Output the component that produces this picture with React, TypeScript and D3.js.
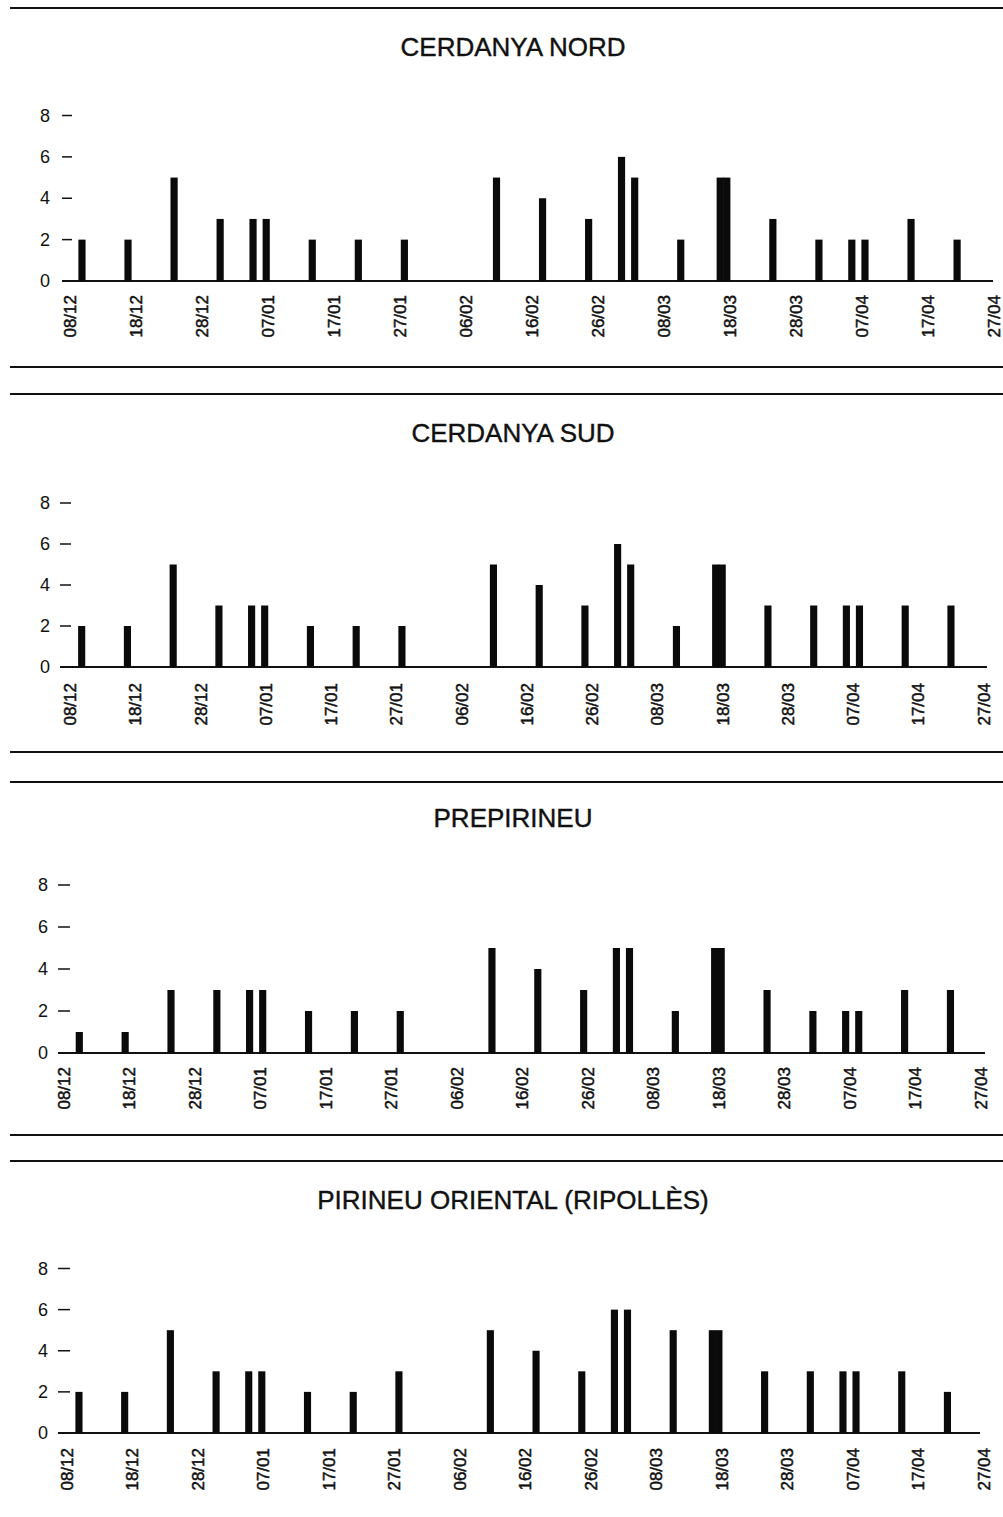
import React from "react";
import * as d3 from "d3";

// ---- data ----
const tickDates = [
  "1994-12-08", "1994-12-18", "1994-12-28", "1995-01-07", "1995-01-17",
  "1995-01-27", "1995-02-06", "1995-02-16", "1995-02-26", "1995-03-08",
  "1995-03-18", "1995-03-28", "1995-04-07", "1995-04-17", "1995-04-27",
];

const barDates = [
  "1994-12-10", "1994-12-17", "1994-12-24", "1994-12-31", "1995-01-05",
  "1995-01-07", "1995-01-14", "1995-01-21", "1995-01-28", "1995-02-11",
  "1995-02-18", "1995-02-25", "1995-03-02", "1995-03-04", "1995-03-11",
  "1995-03-17", "1995-03-18", "1995-03-25", "1995-04-01", "1995-04-06",
  "1995-04-08", "1995-04-15", "1995-04-22",
];

const titles = [
  "CERDANYA NORD",
  "CERDANYA SUD",
  "PREPIRINEU",
  "PIRINEU ORIENTAL (RIPOLLÈS)",
];

const cerdanyaNord = [2, 2, 5, 3, 3, 3, 2, 2, 2, 5, 4, 3, 6, 5, 2, 5, 5, 3, 2, 2, 2, 3, 2];
const cerdanyaSud = [2, 2, 5, 3, 3, 3, 2, 2, 2, 5, 4, 3, 6, 5, 2, 5, 5, 3, 3, 3, 3, 3, 3];
const prepirineu = [1, 1, 3, 3, 3, 3, 2, 2, 2, 5, 4, 3, 5, 5, 2, 5, 5, 3, 2, 2, 2, 3, 3];
const pirineuOriental = [2, 2, 5, 3, 3, 3, 2, 2, 3, 5, 4, 3, 6, 6, 5, 5, 5, 3, 3, 3, 3, 3, 2];

const seriesList = [cerdanyaNord, cerdanyaSud, prepirineu, pirineuOriental];
const yTicks = [0, 2, 4, 6, 8];

// ---- layout ----
const layouts = [
  { titleY: 47, y0: 281, y8: 115.5, x0: 68.8, ppd: 6.58, lx0: 70, lppd: 6.6, labelTop: 295, baseStart: 62, baseEnd: 993, tickX1: 62, tickX2: 72, numX: 50 },
  { titleY: 433, y0: 667, y8: 503, x0: 68.6, ppd: 6.536, lx0: 70.5, lppd: 6.525, labelTop: 683, baseStart: 60, baseEnd: 987, tickX1: 60, tickX2: 71, numX: 50 },
  { titleY: 818, y0: 1053, y8: 885, x0: 66.2, ppd: 6.55, lx0: 64, lppd: 6.55, labelTop: 1067, baseStart: 58, baseEnd: 985, tickX1: 58, tickX2: 70, numX: 48 },
  { titleY: 1200, y0: 1433, y8: 1268.5, x0: 65.9, ppd: 6.53, lx0: 67, lppd: 6.55, labelTop: 1448, baseStart: 58, baseEnd: 980, tickX1: 58, tickX2: 70, numX: 48 },
];
const ruleYs = [8, 367, 394, 752, 782, 1135, 1161];

const parse = d3.utcParse("%Y-%m-%d");
const fmt = d3.utcFormat("%d/%m");
const startDate = parse(tickDates[0]) as Date;
const endDate = parse(tickDates[tickDates.length - 1]) as Date;
const spanDays = d3.utcDay.count(startDate, endDate);

const FONT = "'Liberation Sans', Arial, Helvetica, sans-serif";

function Panel({ idx }: { idx: number }) {
  const L = layouts[idx];
  const values = seriesList[idx];
  const x = d3.scaleUtc().domain([startDate, endDate]).range([L.x0, L.x0 + spanDays * L.ppd]);
  const xl = d3.scaleUtc().domain([startDate, endDate]).range([L.lx0, L.lx0 + spanDays * L.lppd]);
  const y = d3.scaleLinear().domain([0, 8]).range([L.y0, L.y8]);
  const bw = L.ppd + 0.6;
  return (
    <g>
      <text x={513} y={L.titleY} textAnchor="middle" dominantBaseline="central" fontFamily={FONT} fontSize={26} fill="#111" stroke="#111" strokeWidth={0.4}>
        {titles[idx]}
      </text>
      {yTicks.map((t) => (
        <g key={t}>
          <text x={L.numX} y={y(t)} textAnchor="end" dominantBaseline="central" fontFamily={FONT} fontSize={18} fill="#111">
            {t}
          </text>
          {t > 0 && <line x1={L.tickX1} x2={L.tickX2} y1={y(t)} y2={y(t)} stroke="#111" strokeWidth={1.5} />}
        </g>
      ))}
      <line x1={L.baseStart} x2={L.baseEnd} y1={y(0)} y2={y(0)} stroke="#111" strokeWidth={2} />
      {barDates.map((ds, i) => {
        const d = parse(ds) as Date;
        const v = values[i];
        return (
          <rect key={ds} x={x(d) - bw / 2} y={y(v)} width={bw} height={y(0) - y(v)} fill="#0a0a0a" />
        );
      })}
      {tickDates.map((ds) => {
        const d = parse(ds) as Date;
        return (
          <text
            key={ds}
            transform={`translate(${xl(d)},${L.labelTop}) rotate(-90)`}
            textAnchor="end"
            dominantBaseline="central"
            fontFamily={FONT}
            fontSize={17}
            fill="#111"
            stroke="#111"
            strokeWidth={0.5}
          >
            {fmt(d)}
          </text>
        );
      })}
    </g>
  );
}

export default function App() {
  return (
    <svg
      width={1003}
      height={1517}
      viewBox="0 0 1003 1517"
      style={{ position: "absolute", left: 0, top: 0, background: "#fff" }}
    >
      <rect x={0} y={0} width={1003} height={1517} fill="#fff" />
      {ruleYs.map((ry) => (
        <line key={ry} x1={10} x2={1003} y1={ry} y2={ry} stroke="#111" strokeWidth={2} />
      ))}
      {layouts.map((_, i) => (
        <Panel key={i} idx={i} />
      ))}
    </svg>
  );
}
